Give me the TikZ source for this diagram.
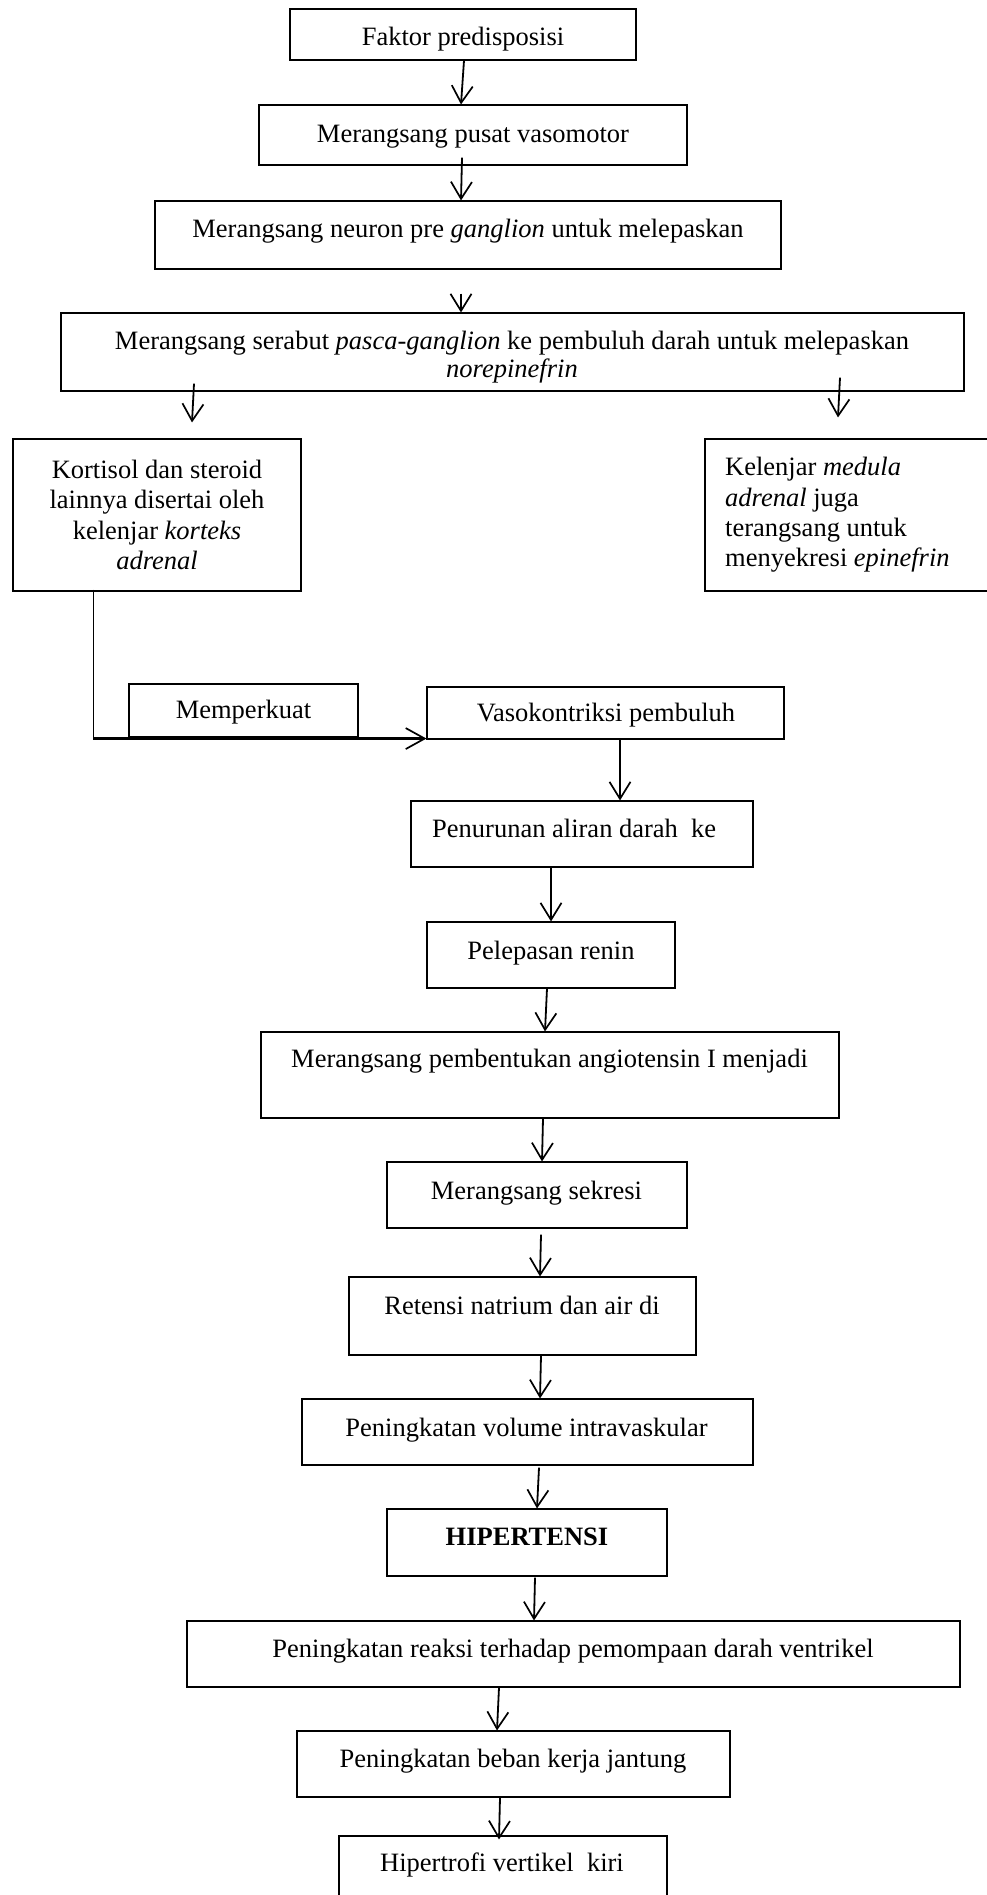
\documentclass[tikz,border=0pt]{standalone}
\usepackage{fontspec}
\setmainfont{Liberation Serif}
\usetikzlibrary{arrows.meta}
\begin{document}
\begin{tikzpicture}[x=1pt,y=-1pt,
  box/.style={draw, line width=1.1pt, inner sep=0pt},
  txt/.style={inner sep=0pt, font=\fontsize{26.5}{30.3}\selectfont},
  arr/.style={line width=1.8pt, -{Straight Barb[length=17pt,width=21pt,line width=1.7pt]}}]
\useasboundingbox (0,0) rectangle (987,1895);
\fill[white] (0,0) rectangle (987,1895);
\clip (0,0) rectangle (987,1895);
% boxes
\node[box, minimum width=346pt, minimum height=51pt] (b1) at (463,34.5) {};
\node[box, minimum width=428pt, minimum height=60pt] (b2) at (473,135) {};
\node[box, minimum width=626pt, minimum height=68pt] (b3) at (468,235) {};
\node[box, minimum width=903pt, minimum height=78pt] (b4) at (512.5,352) {};
\node[box, minimum width=288pt, minimum height=152pt] (b5) at (157,515) {};
\node[box, minimum width=295pt, minimum height=152pt] (b6) at (852.5,515) {};
\node[box, minimum width=229pt, minimum height=53pt] (bM) at (243.5,710.5) {};
\node[box, minimum width=357pt, minimum height=52pt] (bV) at (605.5,713) {};
\node[box, minimum width=342pt, minimum height=66pt] (bP) at (582,834) {};
\node[box, minimum width=248pt, minimum height=66pt] (bR) at (551,955) {};
\node[box, minimum width=578pt, minimum height=86pt] (bA) at (550,1075) {};
\node[box, minimum width=300pt, minimum height=66pt] (bS) at (537,1195) {};
\node[box, minimum width=347pt, minimum height=78pt] (bN) at (522.5,1316) {};
\node[box, minimum width=451pt, minimum height=66pt] (bI) at (527.5,1432) {};
\node[box, minimum width=280pt, minimum height=67pt] (bH) at (527,1542.5) {};
\node[box, minimum width=773pt, minimum height=66pt] (bQ) at (573.5,1654) {};
\node[box, minimum width=433pt, minimum height=66pt] (bB) at (513.5,1764) {};
\node[box, minimum width=328pt, minimum height=74pt] (bK) at (503,1873) {};
% texts
\node[txt, anchor=base] (t1) at (463,45) {Faktor predisposisi};
\node[txt, anchor=base] (t2) at (473,142) {Merangsang pusat vasomotor};
\node[txt, anchor=base] (t3) at (468,237) {Merangsang neuron pre \textit{ganglion} untuk melepaskan};
\node[txt, align=center] (t4) at (512,357.5) {Merangsang serabut \textit{pasca-ganglion} ke pembuluh darah untuk melepaskan\\[-2.3pt]\textit{norepinefrin}};
\node[txt, align=center] (t5) at (157,515) {Kortisol dan steroid\\lainnya disertai oleh\\kelenjar \textit{korteks}\\\textit{adrenal}};
\node[txt, align=left, anchor=west] (t6) at (725,515) {Kelenjar \textit{medula}\\\textit{adrenal} juga\\terangsang untuk\\menyekresi \textit{epinefrin}};
\node[txt, anchor=base] (tM) at (243.5,718.5) {Memperkuat};
\node[txt, anchor=base] (tV) at (606,721) {Vasokontriksi pembuluh};
\node[txt, anchor=base west] (tP) at (432,837.5) {Penurunan aliran darah\ \ ke};
\node[txt, anchor=base] (tR) at (551,959) {Pelepasan renin};
\node[txt, anchor=base] (tA) at (549.5,1067) {Merangsang pembentukan angiotensin I menjadi};
\node[txt, anchor=base] (tS) at (536.5,1199) {Merangsang sekresi};
\node[txt, anchor=base] (tN) at (522,1314) {Retensi natrium dan air di};
\node[txt, anchor=base] (tI) at (526.5,1436) {Peningkatan volume intravaskular};
\node[txt, anchor=base, font=\fontsize{26.5}{30.3}\selectfont\bfseries] (tH) at (527,1545.5) {HIPERTENSI};
\node[txt, anchor=base] (tQ) at (573,1657) {Peningkatan reaksi terhadap pemompaan darah ventrikel};
\node[txt, anchor=base] (tB) at (513,1767) {Peningkatan beban kerja jantung};
\node[txt, anchor=base] (tK) at (502,1871) {Hipertrofi vertikel\ \ kiri};
% connectors
\draw[arr] ([xshift=1pt]b1.south) -- ([xshift=-12pt]b2.north);
\draw[arr] ([xshift=-11pt,yshift=8pt]b2.south) -- ([xshift=-7pt]b3.north);
\draw[arr] ([xshift=-7pt,yshift=-24pt]b3.south) -- ([xshift=-51.5pt]b4.north);
\draw[arr] ([xshift=-318.5pt,yshift=8pt]b4.south) -- ([xshift=35pt,yshift=16pt]b5.north);
\draw[arr] ([xshift=327.5pt,yshift=14pt]b4.south) -- ([xshift=-14.5pt,yshift=21pt]b6.north);
\draw[line width=1pt] ([xshift=-64pt,yshift=2pt]b5.south) -- ++(0,149);
\draw[line width=2.8pt, -{Straight Barb[length=19pt,width=21pt,line width=1.7pt]}] ([xshift=-64pt,yshift=-147pt]b5.south) -- ([yshift=1pt]bV.south west);
\draw[arr] ([xshift=14.5pt]bV.south) -- ([xshift=38pt]bP.north);
\draw[arr] ([xshift=-31pt]bP.south) -- (bR.north);
\draw[arr] ([xshift=-4pt]bR.south) -- ([xshift=-5pt]bA.north);
\draw[arr] ([xshift=-7pt]bA.south) -- ([xshift=5pt]bS.north);
\draw[arr] ([xshift=4pt,yshift=-6pt]bS.south) -- ([xshift=17.5pt]bN.north);
\draw[arr] ([xshift=18.5pt]bN.south) -- ([xshift=12.5pt]bI.north);
\draw[arr] ([xshift=11.5pt,yshift=-2pt]bI.south) -- ([xshift=10pt]bH.north);
\draw[arr] ([xshift=8pt,yshift=-1pt]bH.south) -- ([xshift=-39.5pt]bQ.north);
\draw[arr] ([xshift=-74.5pt]bQ.south) -- ([xshift=-16.5pt]bB.north);
\draw[arr] ([xshift=-13.5pt]bB.south) -- ([xshift=-4pt,yshift=-4pt]bK.north);
\end{tikzpicture}
\end{document}
